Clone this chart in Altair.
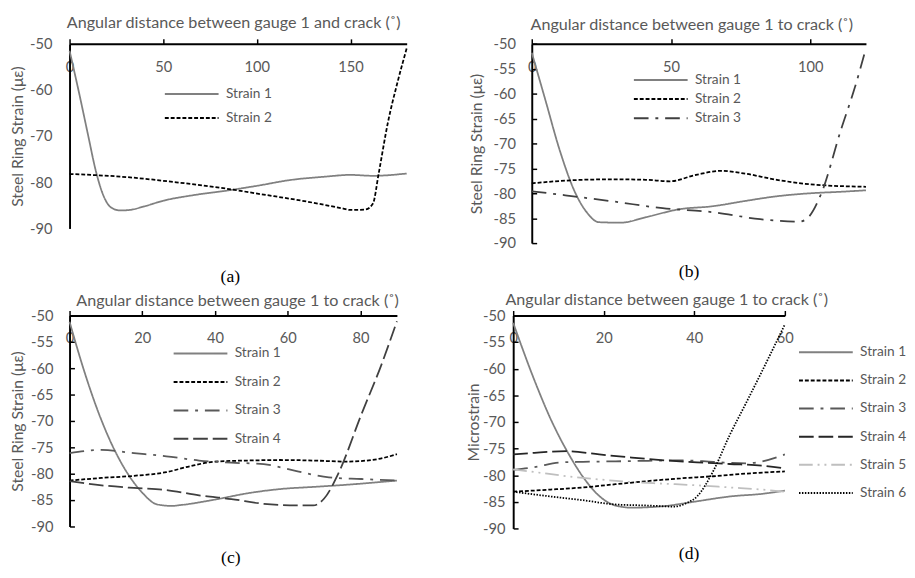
import altair as alt
import pandas as pd

# ---------------- data ----------------
SERIES = ["Strain 1", "Strain 2", "Strain 3", "Strain 4", "Strain 5", "Strain 6"]

# panel (a)
A_X1 = [0, 5, 10, 14, 18, 22, 27, 32, 40, 50, 66, 84, 101, 118, 136, 150, 162, 180]
A_Y1 = [-51.5, -60.5, -70, -77.5, -82.8, -85.4, -86.1, -86, -85.2, -84, -82.8, -81.8, -80.7, -79.5, -78.8, -78.4, -78.6, -78.1]
A_X2 = [0, 31, 57, 84, 101, 127, 145, 150, 158, 162, 165, 170, 175, 180]
A_Y2 = [-78.2, -78.9, -80, -81.4, -82.5, -84.2, -85.6, -86, -85.9, -84.6, -78.2, -67, -58.5, -51]

# panel (b)
B_X1 = [0, 5, 10, 15.7, 20, 24, 32, 41, 53, 65, 76, 88, 100, 111, 120]
B_Y1 = [-51.8, -61.5, -71.3, -80, -84, -85.8, -85.9, -84.8, -83.2, -82.6, -81.6, -80.6, -80, -79.7, -79.4]
B_X2 = [0, 18, 30, 41, 49.5, 59, 68, 76, 88, 100, 120]
B_Y2 = [-78, -77.3, -77.2, -77.3, -77.6, -76.3, -75.5, -76, -77.3, -78.2, -78.7]
B_X3 = [0, 12, 30, 47, 65, 82, 96, 99, 104, 111, 116, 120]
B_Y3 = [-79.6, -80.4, -81.7, -83, -83.8, -85.2, -85.7, -85, -80, -67.3, -58.8, -50.9]

# panel (c)
C_X1 = [0, 4, 8, 12, 16, 20, 24, 28, 31, 40, 49, 58, 67, 76, 90]
C_Y1 = [-51.2, -60.5, -68.5, -75, -80, -83.6, -85.8, -86.1, -85.9, -84.9, -83.7, -82.9, -82.5, -82.1, -81.3]
C_X2 = [0, 8.8, 17.7, 26.6, 33, 40, 49, 58, 67, 76, 80, 85, 90]
C_Y2 = [-81.3, -80.8, -80.4, -79.7, -78.6, -77.7, -77.5, -77.4, -77.5, -77.7, -77.6, -77.2, -76.3]
C_X3 = [0, 8.8, 17.7, 26.6, 35.6, 44.5, 53.4, 62.4, 71.3, 80.2, 90]
C_Y3 = [-76.1, -75.5, -76.1, -76.7, -77.5, -77.9, -78.2, -79.5, -80.7, -81, -81.3]
C_X4 = [0, 8.8, 17.7, 26.6, 35.6, 44.5, 53.4, 62.4, 67, 70, 74, 80.2, 85.6, 90]
C_Y4 = [-81.4, -82.2, -82.7, -83.1, -84.1, -84.8, -85.7, -86, -86, -84.7, -79.8, -68.8, -59.6, -51.1]

# panel (d)
D_X1 = [0, 4.7, 8.3, 11.9, 15.4, 19, 22.6, 26.2, 33.4, 40.6, 47.8, 55, 60]
D_Y1 = [-51.4, -62.2, -69.5, -75.5, -80.3, -83.9, -85.7, -86.1, -85.8, -84.9, -84, -83.5, -82.9]
D_X2 = [0, 8.3, 15.4, 22.6, 29.8, 37, 44.2, 51.4, 60]
D_Y2 = [-83.1, -82.7, -82.3, -81.7, -81.1, -80.6, -80.2, -79.7, -79.3]
D_X3 = [0, 4.7, 10.4, 15.4, 22.6, 29.8, 37, 44.2, 51.4, 55, 60]
D_Y3 = [-79, -78.5, -77.6, -77.5, -77.4, -77.3, -77.2, -77.5, -77.8, -77.4, -76.1]
D_X4 = [0, 4.7, 11.9, 19, 26.2, 33.4, 40.6, 47.8, 55, 60]
D_Y4 = [-76.1, -75.8, -75.5, -76.1, -76.7, -77.2, -77.6, -77.9, -78.2, -78.7]
D_X5 = [0, 4.7, 11.9, 19, 26.2, 33.4, 40.6, 47.8, 55, 60]
D_Y5 = [-78.9, -79.4, -80.2, -80.8, -81.3, -81.6, -81.9, -82.3, -82.7, -83.1]
D_X6 = [0, 8.3, 15.4, 22.6, 29.8, 35.6, 38.4, 40.6, 44.2, 47.8, 51.4, 55, 60]
D_Y6 = [-83.1, -84, -84.7, -85.5, -85.7, -85.9, -85.2, -84, -79.2, -72.5, -66.5, -60.4, -51.7]

X_TITLE_A = "Angular distance between gauge 1 and crack (˚)"
X_TITLE = "Angular distance between gauge 1 to crack (˚)"
Y_TITLE = "Steel Ring Strain (με)"
Y_TITLE_D = "Microstrain"

# ---------------- styling ----------------
FONT = "Lato"
TXT = "#595959"
DASHES = {
    "Strain 1": [1, 0],
    "Strain 2": [4, 2],
    "Strain 3": [15, 7, 3, 7],
    "Strain 4": [15, 5],
    "Strain 5": [14, 5, 2, 5, 2, 5],
    "Strain 6": [1.5, 1.5],
}
MINUS_FIX = "replace(datum.label, '\u2212', '-')"


def frame(pairs):
    rows = []
    for name, xs, ys in pairs:
        for i, (x, y) in enumerate(zip(xs, ys)):
            rows.append({"series": name, "x": x, "y": y, "order": i})
    return pd.DataFrame(rows)


def panel(df, names, colors, xmax, xticks, yticks, width, height, xtitle, ytitle,
          title_x, title_pad, label_pad, ytitle_pad, inner_ticks,
          leg_x, leg_y, row_pad, letter, letter_offset, letter_dx):
    xscale = alt.Scale(domain=[0, xmax], nice=False, zero=False)
    yscale = alt.Scale(domain=[-90, -50], nice=False, zero=False)
    xaxis = alt.Axis(
        orient="top", values=xticks, grid=False, domainColor="black", domainWidth=2,
        tickColor="black", tickWidth=1.5, tickSize=5, labelPadding=-28,
        labelBaseline="middle", labelFlush=False, labelFont=FONT, labelFontSize=15,
        labelColor=TXT, labelOverlap=False,
        title=xtitle, titleX=title_x, titlePadding=title_pad, titleFont=FONT,
        titleFontSize=16.5, titleFontWeight="normal", titleColor=TXT)
    legend = alt.Legend(
        orient="none", legendX=leg_x, legendY=leg_y, title=None, direction="vertical",
        symbolType="M-1,0H9", symbolSize=121, symbolStrokeWidth=2,
        labelFont=FONT, labelFontSize=14, labelColor=TXT, labelOffset=50,
        rowPadding=row_pad, padding=0, offset=0,
    )
    lines = alt.Chart(df).mark_line(interpolate="monotone", strokeWidth=1.8, clip=False).encode(
        x=alt.X("x:Q", scale=xscale, axis=xaxis),
        y=alt.Y("y:Q", scale=yscale, axis=alt.Axis(
            orient="left", values=yticks, grid=False, domainColor="black", domainWidth=2,
            ticks=False, tickSize=0, labelPadding=label_pad, labelFont=FONT, labelFontSize=15,
            labelColor=TXT, labelOverlap=False, labelExpr=MINUS_FIX,
            title=ytitle, titlePadding=ytitle_pad, titleFont=FONT, titleFontSize=16,
            titleFontWeight="normal", titleColor=TXT)),
        color=alt.Color("series:N", scale=alt.Scale(domain=names, range=colors), legend=legend),
        strokeDash=alt.StrokeDash("series:N", scale=alt.Scale(
            domain=names, range=[DASHES[n] for n in names]), legend=legend),
        order="order:Q",
    )
    if inner_ticks:
        tick_layer = alt.Chart(df).mark_line(strokeOpacity=0).encode(
            x=alt.X("x:Q", scale=xscale, axis=xaxis),
            y=alt.Y("y:Q", scale=yscale, axis=alt.Axis(
                orient="right", offset=-width, values=yticks, labels=False, domain=False,
                grid=False, tickColor="black", tickWidth=1.5, tickSize=5, title="")),
            detail="series:N",
        )
        ch = alt.layer(lines, tick_layer).resolve_axis(y="independent")
    else:
        ch = lines
    return ch.properties(
        width=width, height=height,
        title=alt.TitleParams(letter, orient="bottom", frame="group", anchor="middle",
                              offset=letter_offset, dx=letter_dx, baseline="top",
                              font="Liberation Serif", fontSize=18, fontWeight="normal",
                              color="black"),
    )


df_a = frame([("Strain 1", A_X1, A_Y1), ("Strain 2", A_X2, A_Y2)])
df_b = frame([("Strain 1", B_X1, B_Y1), ("Strain 2", B_X2, B_Y2), ("Strain 3", B_X3, B_Y3)])
df_c = frame([("Strain 1", C_X1, C_Y1), ("Strain 2", C_X2, C_Y2), ("Strain 3", C_X3, C_Y3),
              ("Strain 4", C_X4, C_Y4)])
df_d = frame([("Strain 1", D_X1, D_Y1), ("Strain 2", D_X2, D_Y2), ("Strain 3", D_X3, D_Y3),
              ("Strain 4", D_X4, D_Y4), ("Strain 5", D_X5, D_Y5), ("Strain 6", D_X6, D_Y6)])

pa = panel(df_a, SERIES[:2], ["#808080", "#000000"], 180, [0, 50, 100, 150],
           [-50, -60, -70, -80, -90], 345, 189, X_TITLE_A, Y_TITLE,
           167.5, 8, 18, 4, False, 96, 44.5, 10.5, "(a)", 33, -8)
pb = panel(df_b, SERIES[:3], ["#808080", "#000000", "#404040"], 120, [0, 50, 100],
           list(range(-50, -91, -5)), 342, 204, X_TITLE, Y_TITLE,
           163.3, 6, 16.7, 9, True, 103, 30, 5.6, "(b)", 13, -10)
pc = panel(df_c, SERIES[:4], ["#808080", "#000000", "#595959", "#404040"], 90,
           [0, 20, 40, 60, 80], list(range(-50, -91, -5)), 335, 216, X_TITLE, Y_TITLE,
           171.5, 1, 17, 5, True, 105, 32, 15.1, "(c)", 15, -2.5)
pd_ = panel(df_d, SERIES, ["#808080", "#000000", "#595959", "#262626", "#bfbfbf", "#000000"], 60,
            [0, 20, 40, 60], list(range(-50, -91, -5)), 278, 218, X_TITLE, Y_TITLE_D,
            156.6, 2, 8.4, 0.8, True, 291, 30.7, 14.8, "(d)", 9, 41)

row1 = alt.hconcat(pa, pb, spacing=59).resolve_scale(color="independent", strokeDash="independent", x="independent", y="independent")
row2 = alt.hconcat(pc, pd_, spacing=66).resolve_scale(color="independent", strokeDash="independent", x="independent", y="independent")
chart = alt.vconcat(row1, row2, spacing=6).resolve_scale(
    color="independent", strokeDash="independent", x="independent", y="independent"
).properties(
    padding={"left": 2, "top": 0, "right": 0, "bottom": 0},
    background="white",
).configure_view(stroke=None)

chart.save("out.html", embed_options={"renderer": "svg", "actions": False})
